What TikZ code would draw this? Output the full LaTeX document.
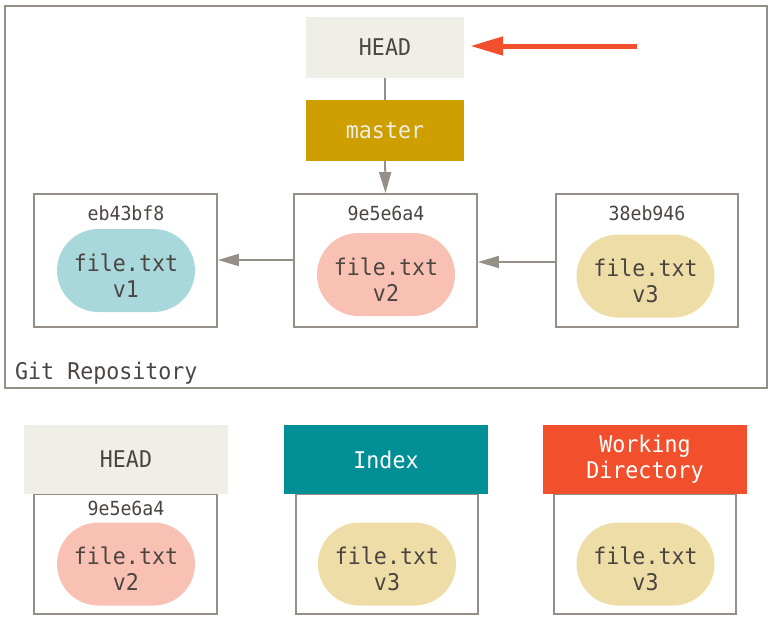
\documentclass[tikz,border=0pt]{standalone}
\usepackage{fontspec}
\setmonofont[FakeStretch=0.94]{DejaVu Sans Mono}
\usetikzlibrary{arrows.meta,shapes.misc}
\definecolor{gline}{HTML}{968F87}
\definecolor{txt}{HTML}{4B4541}
\definecolor{headfill}{HTML}{EFEEE7}
\definecolor{masterfill}{HTML}{CE9F00}
\definecolor{indexfill}{HTML}{008F95}
\definecolor{wdfill}{HTML}{F24F2C}
\definecolor{bluef}{HTML}{A8D8DB}
\definecolor{pinkf}{HTML}{F9C1B3}
\definecolor{yellowf}{HTML}{EEDDA6}
\tikzset{
  mainfont/.style={font=\ttfamily\fontsize{23}{26}\selectfont},
  hashfont/.style={font=\ttfamily\fontsize{19.4}{22}\selectfont},
  refbox/.style={mainfont, draw=none, minimum width=158pt, minimum height=61pt, inner sep=0pt},
  hdrbox/.style={mainfont, draw=none, minimum width=204pt, minimum height=69pt, inner sep=0pt, align=center},
  commitbox/.style={draw=gline, line width=1.8pt, minimum height=133pt, inner sep=0pt},
  blob/.style={rounded rectangle, mainfont, text=txt, minimum width=138pt, minimum height=83pt, inner sep=0pt, align=center},
  blobtext/.style={mainfont, text=txt, inner sep=0pt, align=center},
  hashlbl/.style={hashfont, text=txt, inner sep=0pt},
  grayarrow/.style={draw=gline, line width=1.8pt, -{Triangle[length=21pt,width=12pt]}},
}
\begin{document}
\begin{tikzpicture}[x=1pt,y=-1pt]
\useasboundingbox (0,0) rectangle (776,625);
% repository frame
\node[draw=gline, line width=1.8pt, minimum width=762pt, minimum height=382pt, inner sep=0pt] (repo) at (386,197) {};
\node[mainfont, text=txt, anchor=west, inner sep=0pt] (repolbl) at (15,373) {Git Repository};
% refs
\node[refbox, fill=headfill, text=txt] (head) at (385,47.5) {HEAD};
\node[refbox, fill=masterfill, text=headfill] (master) at (385,130.5) {master};
% commits
\node[commitbox, minimum width=183pt] (c1) at (125.5,260.5) {};
\node[commitbox, minimum width=183pt] (c2) at (385.5,260.5) {};
\node[commitbox, minimum width=182pt] (c3) at (647,260.5) {};
\node[hashlbl] (h1) at (126,213) {eb43bf8};
\node[hashlbl] (h2) at (386,213) {9e5e6a4};
\node[hashlbl] (h3) at (647,213) {38eb946};
\node[blob, fill=bluef] (b1) at (126,270.5) {};
\node[blob, fill=pinkf] (b2) at (386,274.5) {};
\node[blob, fill=yellowf] (b3) at (645.5,276) {};
\node[blobtext] (t1a) at ([yshift=-5pt]b1.center) {file.txt\\v1};
\node[blobtext] (t2a) at ([yshift=-5pt]b2.center) {file.txt\\v2};
\node[blobtext] (t3a) at ([yshift=-5pt]b3.center) {file.txt\\v3};
% connectors
\draw[draw=gline, line width=1.8pt] (head.south) -- (master.north);
\draw[grayarrow] (master.south) -- (c2.north);
\draw[grayarrow] (c2.west |- 0,260) -- (c1.east |- 0,260);
\draw[grayarrow] (c3.west |- 0,262) -- (c2.east |- 0,262);
\coordinate (redstart) at (637,46);
\draw[draw=wdfill, line width=5pt, -{Triangle[length=33pt,width=18pt]}] (redstart) -- ([xshift=6pt,yshift=1.5pt]head.east);
% bottom row
\node[commitbox, minimum width=183pt, minimum height=120pt] (w1) at (125.5,554) {};
\node[commitbox, minimum width=182pt, minimum height=120pt] (w2) at (387,554) {};
\node[commitbox, minimum width=182pt, minimum height=120pt] (w3) at (645,554) {};
\node[hdrbox, fill=headfill, text=txt] (bhead) at (126,459.5) {HEAD};
\node[hdrbox, fill=indexfill, text=white] (bindex) at (386,459.5) {Index};
\node[hdrbox, fill=wdfill, text=white] (bwd) at (645,459.5) {Working\\Directory};
\node[hashlbl] (h4) at (126,508) {9e5e6a4};
\node[blob, fill=pinkf] (b4) at (126,564) {};
\node[blob, fill=yellowf] (b5) at (387,564) {};
\node[blob, fill=yellowf] (b6) at (645.5,564) {};
\node[blobtext] (t4a) at ([yshift=-5pt]b4.center) {file.txt\\v2};
\node[blobtext] (t5a) at ([yshift=-5pt]b5.center) {file.txt\\v3};
\node[blobtext] (t6a) at ([yshift=-5pt]b6.center) {file.txt\\v3};
\end{tikzpicture}
\end{document}
